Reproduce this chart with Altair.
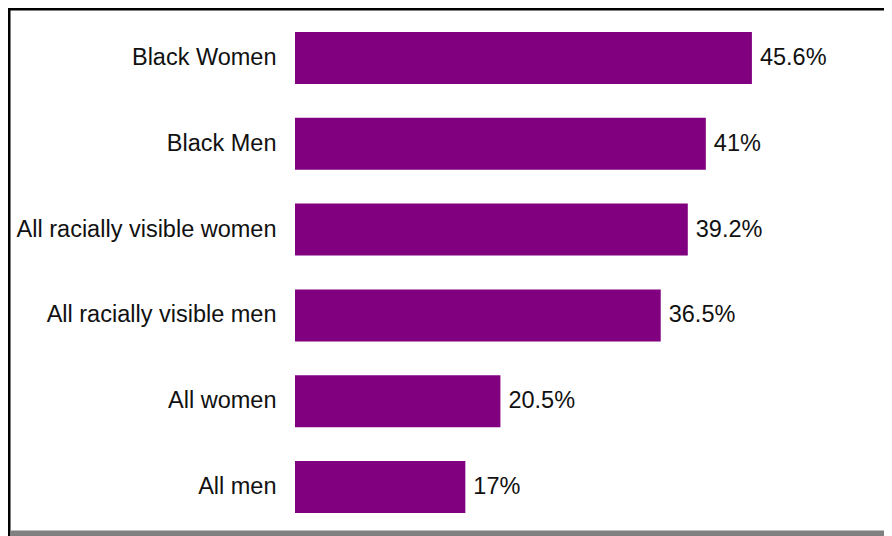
import altair as alt
import pandas as pd

categories = ["Black Women", "Black Men", "All racially visible women",
              "All racially visible men", "All women", "All men"]
values = [45.6, 41, 39.2, 36.5, 20.5, 17]
value_labels = ["45.6%", "41%", "39.2%", "36.5%", "20.5%", "17%"]

df = pd.DataFrame({"category": categories, "value": values, "label": value_labels})

FONT = "Liberation Sans"
FS = 23.5
TXT = "#111111"

W = 589
y = alt.Y("category:N", sort=categories, title=None,
          scale=alt.Scale(paddingInner=0.394, paddingOuter=0.197),
          axis=alt.Axis(ticks=False, domain=False, labelPadding=19, labelFont=FONT,
                        labelFontSize=FS, labelColor=TXT, labelLimit=400))
x = alt.X("value:Q", scale=alt.Scale(domain=[0, W / 10.02]), axis=None)

bars = alt.Chart(df).mark_bar(color="#800080").encode(x=x, y=y)
text = alt.Chart(df).mark_text(align="left", baseline="middle", dx=8, font=FONT,
                               fontSize=FS, color=TXT).encode(x=x, y=y, text="label:N")

one = pd.DataFrame({"a": [0]})
left_border = alt.Chart(one).mark_rule(color="black", strokeWidth=3).encode(
    x=alt.value(-286), y=alt.value(-7), y2=alt.value(521))
top_border = alt.Chart(one).mark_rule(color="black", strokeWidth=3).encode(
    x=alt.value(-287), x2=alt.value(W), y=alt.value(-6))
bottom_bar = alt.Chart(one).mark_rule(color="#808080", strokeWidth=5.5).encode(
    x=alt.value(-284), x2=alt.value(W), y=alt.value(518.3))

chart = alt.layer(bars, text, left_border, top_border, bottom_bar).properties(
    width=W, height=515,
    padding={"left": 287, "top": 7, "right": 0, "bottom": 6},
    autosize=alt.AutoSizeParams(type="none"),
    background="white",
).configure_view(stroke=None)

chart.save("out.html", embed_options={"renderer": "svg", "actions": False})
